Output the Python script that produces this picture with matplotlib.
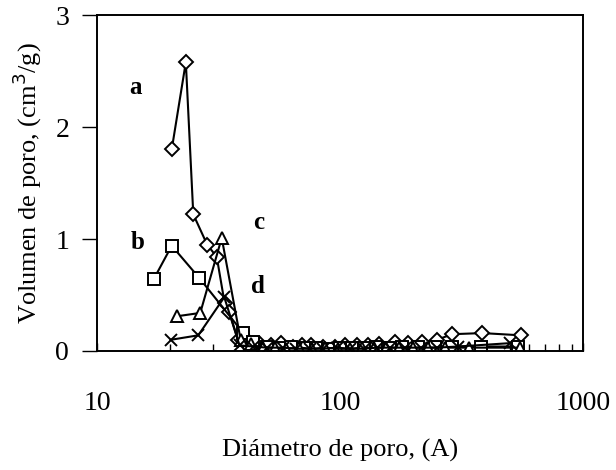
import matplotlib
matplotlib.use("Agg")
import matplotlib.pyplot as plt
from matplotlib.ticker import LogLocator, FixedLocator, NullFormatter

# ---- data ----
d_a = [20.3, 23.2, 24.9, 28.4, 31.1, 33.5, 35, 38, 42, 47, 52, 57, 64, 70, 76, 85, 95,
       105, 118, 130, 145, 168, 190, 217, 250, 290, 385, 555]
v_a = [1.80, 2.58, 1.22, 0.95, 0.84, 0.43, 0.35, 0.10, 0.09, 0.06, 0.05, 0.07, 0.04, 0.05,
       0.05, 0.04, 0.04, 0.05, 0.05, 0.05, 0.06, 0.08, 0.07, 0.08, 0.10, 0.15, 0.16, 0.14]

d_b = [17.1, 20.3, 26.4, 40, 44, 50, 56, 63, 72, 80, 90, 100, 112, 125, 140, 160, 180,
       210, 245, 290, 380, 540]
v_b = [0.64, 0.94, 0.65, 0.16, 0.08, 0.04, 0.03, 0.04, 0.03, 0.03, 0.02, 0.03, 0.03, 0.03,
       0.04, 0.03, 0.04, 0.04, 0.04, 0.04, 0.04, 0.04]

d_c = [21.3, 26.6, 32.6, 39, 43, 48, 54, 60, 68, 77, 87, 98, 110, 123, 138, 155, 175, 200,
       230, 270, 340, 550]
v_c = [0.31, 0.34, 1.01, 0.10, 0.06, 0.03, 0.03, 0.02, 0.03, 0.02, 0.03, 0.02, 0.02, 0.03,
       0.03, 0.03, 0.03, 0.03, 0.03, 0.03, 0.03, 0.03]

d_d = [20.1, 26.1, 33.4, 38.6, 44, 50, 58, 66, 75, 85, 97, 110, 125, 142, 160, 185, 215,
       250, 306, 500]
v_d = [0.10, 0.14, 0.48, 0.05, 0.04, 0.03, 0.03, 0.02, 0.02, 0.02, 0.03, 0.02, 0.02, 0.03,
       0.03, 0.03, 0.03, 0.03, 0.04, 0.07]

series_labels = ["a", "b", "c", "d"]
x_ticks = [10, 100, 1000]
x_ticklabels = ["10", "100", "1000"]
y_ticks = [0, 1, 2, 3]
y_ticklabels = ["0", "1", "2", "3"]

plt.rcParams['font.family'] = ['Liberation Serif', 'DejaVu Serif']

fig = plt.figure(figsize=(6.16, 4.70), dpi=100)
ax = fig.add_axes([0.1575, 0.2532, 0.7889, 0.7148])

common = dict(color="black", lw=1.5, mfc="white", mec="black", mew=1.4)
ax.plot(d_a, v_a, marker="D", ms=7, **common)
ax.plot(d_b, v_b, marker="s", ms=9, **common)
ax.plot(d_c, v_c, marker="^", ms=9, **common)
ax.plot(d_d, v_d, marker="x", ms=8.5, **common)

ax.set_xscale("log")
ax.set_xlim(10, 1000)
ax.set_ylim(0, 3)
ax.xaxis.set_major_locator(FixedLocator(x_ticks))
ax.set_xticklabels(x_ticklabels)
ax.xaxis.set_minor_locator(LogLocator(base=10, subs=range(2, 10)))
ax.xaxis.set_minor_formatter(NullFormatter())
ax.set_yticks(y_ticks)
ax.set_yticklabels(y_ticklabels)

for s in ax.spines.values():
    s.set_linewidth(1.4)
ax.tick_params(axis="x", which="major", direction="in", length=6, width=1.0,
               labelsize=20, pad=29)
ax.tick_params(axis="x", which="minor", direction="in", length=5, width=1.0)
ax.tick_params(axis="y", which="major", direction="out", length=11, width=1.0,
               labelsize=20, pad=9)

ax.set_xlabel("Diámetro de poro, (A)", fontsize=19, labelpad=16)
ax.set_ylabel("Volumen de poro, (cm$^3$/g)", fontsize=19, labelpad=8)

label_pos = [(0.080, 0.783), (0.083, 0.324), (0.333, 0.381), (0.331, 0.193)]
for lab, (lx, ly) in zip(series_labels, label_pos):
    ax.text(lx, ly, lab, transform=ax.transAxes, fontsize=18, fontweight="bold",
            ha="center", va="center")

fig.savefig("out.png", dpi=100)
